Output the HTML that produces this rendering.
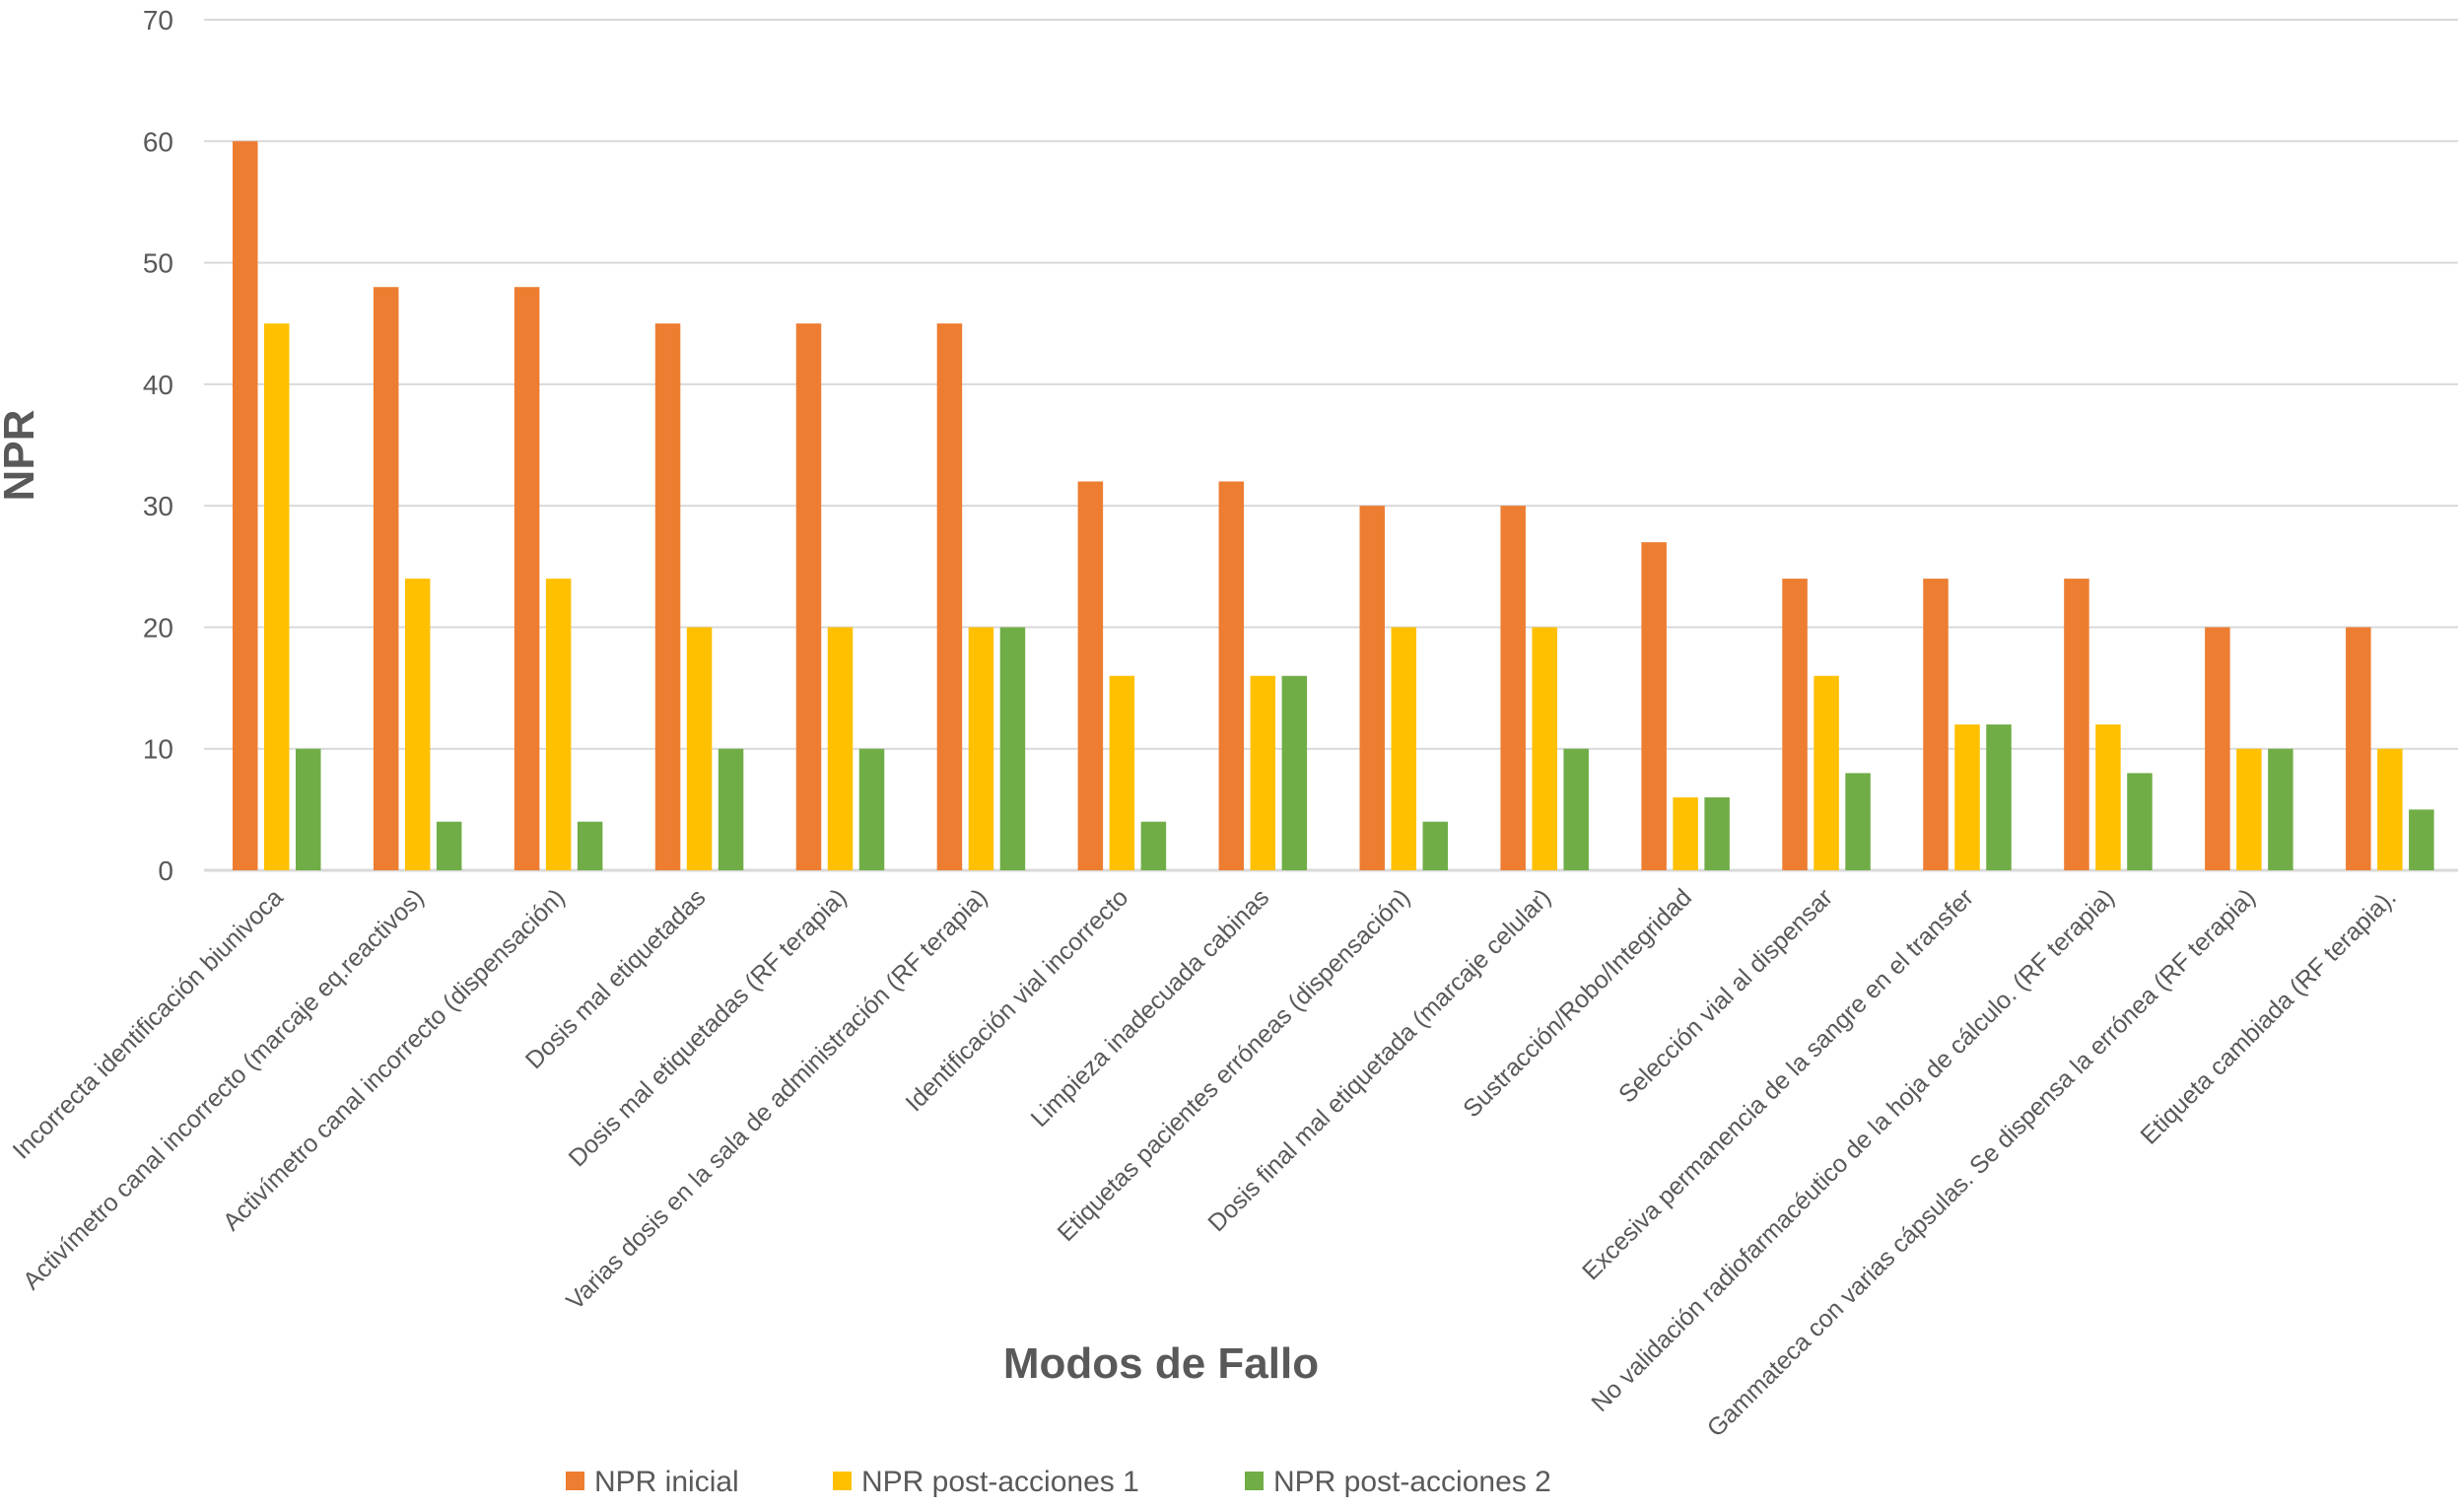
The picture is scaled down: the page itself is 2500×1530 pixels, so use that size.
<!DOCTYPE html>
<html><head><meta charset="utf-8"><style>
html,body{margin:0;padding:0;background:#fff;}
svg{display:block;font-family:"Liberation Sans",sans-serif;}
</style></head><body>
<svg id="chart" width="2500" height="1530" viewBox="0 0 2500 1530">
<g id="grid"></g>
<g id="yticks"></g>
<g id="bars"></g>
<g id="xlabels"></g>
<text x="0" y="0" transform="translate(34,462) rotate(-90)" text-anchor="middle" font-size="44" font-weight="bold" fill="#595959">NPR</text>
<text x="1178" y="1398" text-anchor="middle" font-size="44" font-weight="bold" fill="#595959">Modos de Fallo</text>
<g>
<g><rect x="574" y="1493" width="19" height="19" fill="#ED7D31"/><text x="603" y="1513" font-size="30" fill="#595959">NPR inicial</text></g>
<g><rect x="845" y="1493" width="19" height="19" fill="#FFC000"/><text x="874" y="1513" font-size="30" fill="#595959">NPR post-acciones 1</text></g>
<g><rect x="1263" y="1493" width="19" height="19" fill="#70AD47"/><text x="1292" y="1513" font-size="30" fill="#595959">NPR post-acciones 2</text></g>
</g>
</svg>
<script>
const categories = ["Incorrecta identificación biunivoca","Activímetro canal incorrecto (marcaje eq.reactivos)","Activímetro canal incorrecto (dispensación)","Dosis mal etiquetadas","Dosis mal etiquetadas (RF terapia)","Varias dosis en la sala de administración (RF terapia)","Identificación vial incorrecto","Limpieza inadecuada cabinas","Etiquetas pacientes erróneas (dispensación)","Dosis final mal etiquetada (marcaje celular)","Sustracción/Robo/Integridad","Selección vial al dispensar","Excesiva permanencia de la sangre en el transfer","No validación radiofarmacéutico de la hoja de cálculo. (RF terapia)","Gammateca con varias cápsulas. Se dispensa la errónea (RF terapia)","Etiqueta cambiada (RF terapia)."];
const nprInicial = [60,48,48,45,45,45,32,32,30,30,27,24,24,24,20,20];
const nprPost1 = [45,24,24,20,20,20,16,16,20,20,6,16,12,12,10,10];
const nprPost2 = [10,4,4,10,10,20,4,16,4,10,6,8,12,8,10,5];
const yTicks = [0,10,20,30,40,50,60,70];
const seriesColors = ["#ED7D31","#FFC000","#70AD47"];
const seriesNames = ["npr-inicial","npr-post-acciones-1","npr-post-acciones-2"];

const NS="http://www.w3.org/2000/svg";
const left=207,right=2494,y0=883,y70=20,yMax=70;
const catW=(right-left)/categories.length;
function yScale(v){return y0-(v/yMax)*(y0-y70);}
function xCat(i){return left+i*catW;}
function mk(tag,attrs,parent){const e=document.createElementNS(NS,tag);for(const k in attrs)e.setAttribute(k,attrs[k]);parent.appendChild(e);return e;}

const grid=document.getElementById('grid'),yt=document.getElementById('yticks');
yTicks.forEach(t=>{
  const l=mk('line',{x1:left,x2:right,y1:yScale(t),y2:yScale(t),stroke:'#d9d9d9','stroke-width':t===0?3:2},grid);
  
  
  const tx=mk('text',{x:176,y:yScale(t)+10,'text-anchor':'end','font-size':28,fill:'#595959'},yt);
  tx.textContent=t;
  
  
});
const bars=document.getElementById('bars'),xl=document.getElementById('xlabels');
const series=[nprInicial,nprPost1,nprPost2];
const bw=25.5,pitch=32,off=29;
categories.forEach((c,i)=>{
  series.forEach((s,j)=>{
    const r=mk('rect',{x:xCat(i)+off+j*pitch,y:yScale(s[i]),width:bw,height:y0-yScale(s[i]),fill:seriesColors[j]},bars);
    
    
  });
  const cx=xCat(i)+catW/2+10;
  const t=mk('text',{x:0,y:0,transform:'translate('+cx+',912) rotate(-45)','text-anchor':'end','font-size':25,fill:'#595959'},xl);
  t.textContent=c;
  
  
});
</script>
</body></html>
